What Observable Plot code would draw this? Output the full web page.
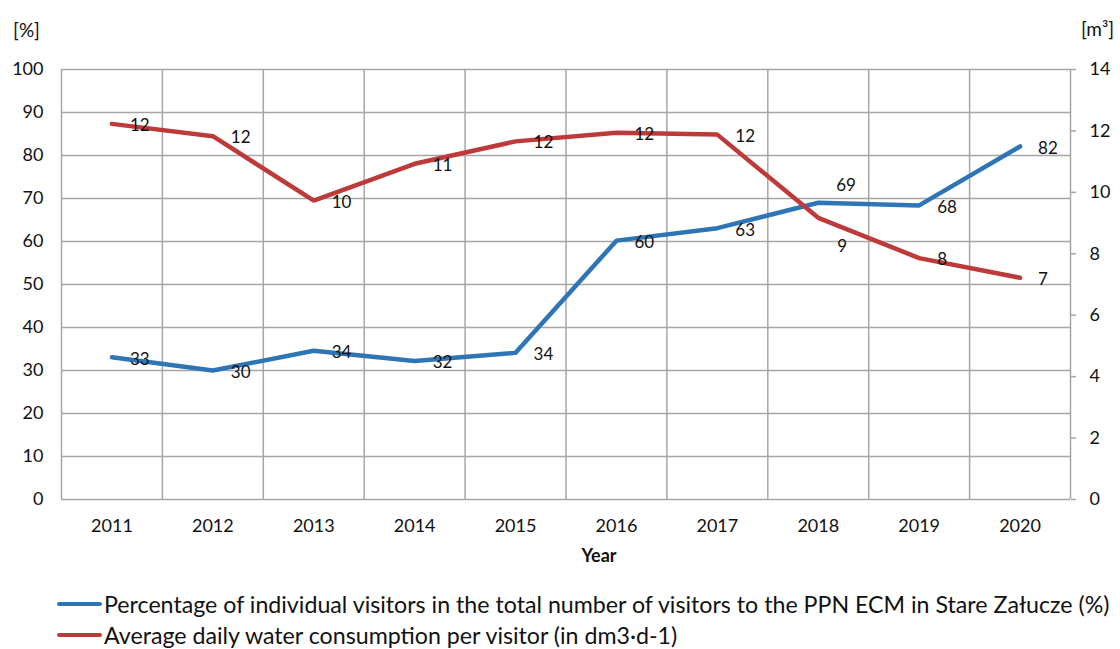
<!DOCTYPE html>
<html>
<head>
<meta charset="utf-8">
<script src="https://cdn.jsdelivr.net/npm/d3@7"></script>
<script src="https://cdn.jsdelivr.net/npm/@observablehq/plot@0.6"></script>
<style>
  html, body { margin: 0; padding: 0; background: #fff; }
  body { width: 1120px; height: 649px; overflow: hidden; font-family: Lato, "DejaVu Sans", sans-serif; }
  #chart svg { display: block; }
  .legend { position: relative; height: 74px; }
  .legend .row { position: absolute; left: 57px; display: flex; align-items: center; font-size: 23.2px; color: #111; white-space: nowrap; }
  .legend .sw { display: inline-block; width: 45px; height: 4px; margin-right: 2px; border-radius: 2px; }
</style>
</head>
<body>
<div id="chart"></div>
<div class="legend" id="legend"></div>
<script>
// ---- data ----
const years = [2011, 2012, 2013, 2014, 2015, 2016, 2017, 2018, 2019, 2020];
const visitorsPct = [33.1, 30.0, 34.6, 32.2, 34.1, 60.2, 63.1, 69.0, 68.4, 82.1];
const waterUse = [12.23, 11.83, 9.73, 10.93, 11.66, 11.94, 11.88, 9.17, 7.86, 7.22];
const visitorLabels = ["33", "30", "34", "32", "34", "60", "63", "69", "68", "82"];
const waterLabels = ["12", "12", "10", "11", "12", "12", "12", "9", "8", "7"];
const leftTicks = [0, 10, 20, 30, 40, 50, 60, 70, 80, 90, 100];
const rightTicks = [0, 2, 4, 6, 8, 10, 12, 14];
const seriesNames = [
  "Percentage of individual visitors in the total number of visitors to the PPN ECM in Stare Załucze (%)",
  "Average daily water consumption per visitor (in dm3·d-1)"
];
const xTitle = "Year";
const leftUnit = "[%]";
const rightUnit = "[m³]";

const blue = "#2e75b6";
const red = "#be3a3a";
const gridColor = "#a6a6a6";
const fs = 17;
const fsAxis = 18;
const fsTitle = 19;
const k = 100 / 14; // right axis (0–14) mapped onto left axis (0–100)

const rows = years.map((y, i) => ({
  year: y,
  pct: visitorsPct[i],
  water: waterUse[i],
  pctLabel: visitorLabels[i],
  waterLabel: waterLabels[i]
}));
const special = 2018;
const bounds = years.map(y => y - 0.5).concat([years[years.length - 1] + 0.5]);

const chart = Plot.plot({
  width: 1120,
  height: 575,
  marginLeft: 61,
  marginRight: 50,
  marginTop: 69,
  marginBottom: 76,
  x: { domain: [years[0] - 0.5, years[years.length - 1] + 0.5] },
  y: { domain: [0, 100] },
  style: { fontFamily: "Lato, 'DejaVu Sans', sans-serif", fontSize: "17px", color: "#111", background: "white" },
  marks: [
    Plot.ruleY(leftTicks.filter(t => t > 0), { stroke: gridColor, strokeWidth: 1.5 }),
    Plot.ruleX(bounds, { stroke: gridColor, strokeWidth: 1.5 }),
    Plot.ruleY([0], { stroke: gridColor, strokeWidth: 1.5 }),
    Plot.axisY(leftTicks, { anchor: "left", tickSize: 0, tickPadding: 18, label: null, tickFormat: d3.format("d"), fill: "#111", fontSize: fsAxis }),
    Plot.axisY(rightTicks.map(v => v * k), {
      anchor: "right", tickSize: 5, tickPadding: 14, label: null,
      tickFormat: d => String(Math.round(d / k)), stroke: gridColor, strokeWidth: 1.5, fill: "#111", fontSize: fsAxis
    }),
    Plot.axisX(years, { anchor: "bottom", tickSize: 0, tickPadding: 20, label: null, tickFormat: d3.format("d"), fill: "#111", fontSize: fsAxis }),
    Plot.lineY(rows, { x: "year", y: "pct", stroke: blue, strokeWidth: 4.5, strokeLinejoin: "miter", strokeLinecap: "round" }),
    Plot.lineY(rows, { x: "year", y: d => d.water * k, stroke: red, strokeWidth: 4.5, strokeLinejoin: "miter", strokeLinecap: "round" }),
    Plot.text(rows.filter(d => d.year !== special), { x: "year", y: "pct", text: "pctLabel", textAnchor: "start", dx: 18, dy: 2, fill: "#111", fontSize: fs }),
    Plot.text(rows.filter(d => d.year === special), { x: "year", y: "pct", text: "pctLabel", textAnchor: "start", dx: 18, dy: -17, fill: "#111", fontSize: fs }),
    Plot.text(rows.filter(d => d.year !== special), { x: "year", y: d => d.water * k, text: "waterLabel", textAnchor: "start", dx: 18, dy: 1.5, fill: "#111", fontSize: fs }),
    Plot.text(rows.filter(d => d.year === special), { x: "year", y: d => d.water * k, text: "waterLabel", textAnchor: "start", dx: 19, dy: 29, fill: "#111", fontSize: fs }),
    Plot.text([xTitle], { frameAnchor: "bottom", textAnchor: "middle", lineAnchor: "middle", dy: 57, dx: 33, text: d => d, fontWeight: "bold", fill: "#111", fontSize: fsAxis }),
    Plot.text([leftUnit], { frameAnchor: "top-left", textAnchor: "middle", lineAnchor: "middle", dx: -35, dy: -39, text: d => d, fill: "#111", fontSize: fsTitle }),
    Plot.text([rightUnit], { frameAnchor: "top-right", textAnchor: "middle", lineAnchor: "middle", dx: 27, dy: -40, text: d => d, fill: "#111", fontSize: fsTitle })
  ]
});
document.getElementById("chart").appendChild(chart);

const legend = document.getElementById("legend");
[[seriesNames[0], blue, 30], [seriesNames[1], red, 61]].forEach(([name, color, top]) => {
  const row = document.createElement("div");
  row.className = "row";
  row.style.top = (top - 15) + "px";
  const sw = document.createElement("span");
  sw.className = "sw";
  sw.style.background = color;
  const tx = document.createElement("span");
  tx.textContent = name;
  row.appendChild(sw);
  row.appendChild(tx);
  legend.appendChild(row);
});
</script>
</body>
</html>
